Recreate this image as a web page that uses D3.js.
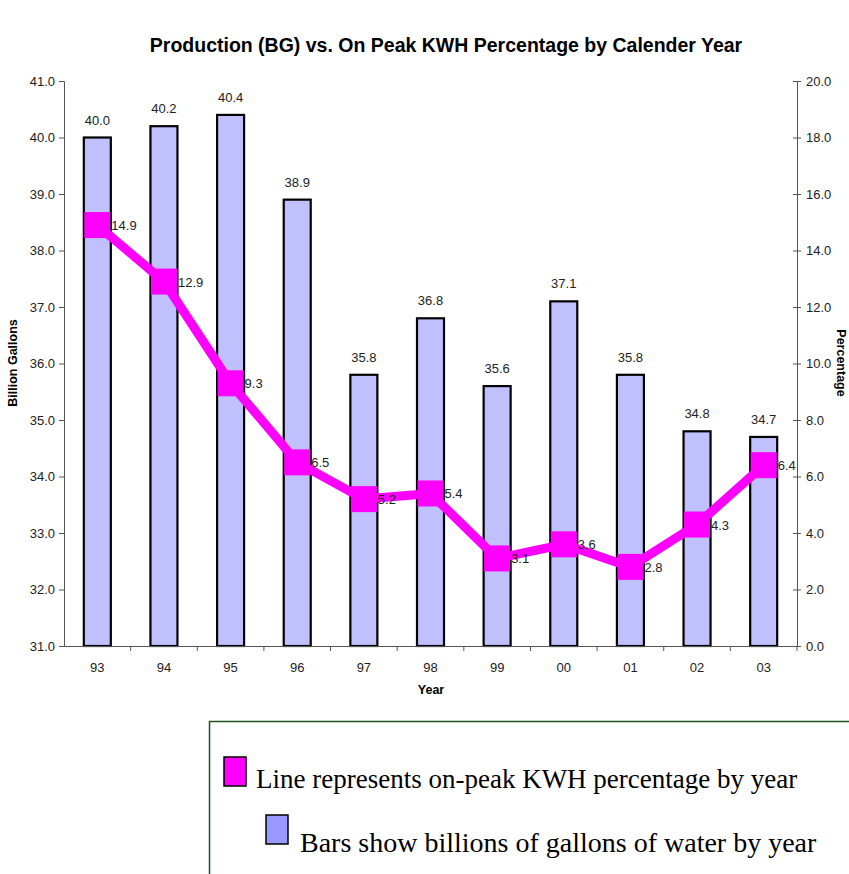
<!DOCTYPE html>
<html>
<head>
<meta charset="utf-8">
<script src="https://cdn.jsdelivr.net/npm/d3@7"></script>
<style>
  body { margin: 0; background: #fff; }
  svg text { font-family: Arial, "Liberation Sans", sans-serif; }
</style>
</head>
<body>
<div id="chart"></div>
<script>
// data
var years = ["93", "94", "95", "96", "97", "98", "99", "00", "01", "02", "03"];
var gallons = [40.0, 40.2, 40.4, 38.9, 35.8, 36.8, 35.6, 37.1, 35.8, 34.8, 34.7];
var peakPct = [14.9, 12.9, 9.3, 6.5, 5.2, 5.4, 3.1, 3.6, 2.8, 4.3, 6.4];
var leftTicks = [31, 32, 33, 34, 35, 36, 37, 38, 39, 40, 41];
var rightTicks = [0, 2, 4, 6, 8, 10, 12, 14, 16, 18, 20];
var legendItems = ["Line represents on-peak KWH percentage by year",
                   "Bars show billions of gallons of water by year"];

var W = 849, H = 874;
var plotL = 64, plotR = 797, plotT = 81, plotB = 646;

var svg = d3.select("#chart").append("svg")
  .attr("width", W)
  .attr("height", H);

//scales
var x = d3.scaleBand().domain(years).range([plotL, plotR]);
var yL = d3.scaleLinear().domain([31, 41]).range([plotB, plotT]);
var yR = d3.scaleLinear().domain([0, 20]).range([plotB, plotT]);

// title
svg.append("text")
  .attr("x", 446).attr("y", 52)
  .attr("text-anchor", "middle")
  .style("font-size", "19.5px").style("font-weight", "bold")
  .text("Production (BG) vs. On Peak KWH Percentage by Calender Year");

// bars
var barW = 27;
svg.selectAll(".bar")
  .data(gallons)
  .enter().append("rect")
  .attr("class", "bar")
  .attr("x", function(d, i) { return x(years[i]) + x.bandwidth() / 2 - barW / 2; })
  .attr("y", function(d) { return yL(d); })
  .attr("width", barW)
  .attr("height", function(d) { return plotB - yL(d); })
  .style("fill", "#C0C0FF")
  .style("stroke", "#000")
  .style("stroke-width", 2.2);

svg.selectAll(".barlabel")
  .data(gallons)
  .enter().append("text")
  .attr("class", "barlabel")
  .attr("x", function(d, i) { return x(years[i]) + x.bandwidth() / 2; })
  .attr("y", function(d) { return yL(d) - 13; })
  .attr("text-anchor", "middle")
  .style("font-size", "13px").style("fill", "#222")
  .text(function(d) { return d.toFixed(1); });

// axes
var axisColor = "#555";
var gL = svg.append("g")
  .attr("transform", "translate(" + plotL + ",0)")
  .call(d3.axisLeft(yL).tickValues(leftTicks).tickSize(5).tickPadding(4)
    .tickFormat(d3.format(".1f")));

var gR = svg.append("g")
  .attr("transform", "translate(" + plotR + ",0)")
  .call(d3.axisRight(yR).tickValues(rightTicks).tickSize(4).tickPadding(5)
    .tickFormat(d3.format(".1f")));
gR.selectAll(".tick line").attr("x1", -4);

var gB = svg.append("g")
  .attr("transform", "translate(0," + plotB + ")")
  .call(d3.axisBottom(x).tickSize(0).tickPadding(17));
// category boundary ticks
gB.selectAll(".sep")
  .data(years)
  .enter().append("line")
  .attr("class", "sep")
  .attr("x1", function(d) { return x(d) + x.bandwidth(); })
  .attr("x2", function(d) { return x(d) + x.bandwidth(); })
  .attr("y1", 0).attr("y2", 5)
  .style("stroke", axisColor);

[gL, gR, gB].forEach(function(g) {
  g.select(".domain").style("stroke", axisColor);
  g.selectAll(".tick line").style("stroke", axisColor);
  g.selectAll("text").style("font-size", "13px").style("fill", "#222")
    .style("font-family", "Arial, 'Liberation Sans', sans-serif");
});

// line + markers
var line = d3.line()
  .x(function(d, i) { return x(years[i]) + x.bandwidth() / 2; })
  .y(function(d) { return yR(d); });

svg.append("path")
  .datum(peakPct)
  .attr("d", line)
  .style("fill", "none")
  .style("stroke", "#FF00FF")
  .style("stroke-width", 9)
  .style("stroke-linejoin", "round");

var mk = 26;
svg.selectAll(".marker")
  .data(peakPct)
  .enter().append("rect")
  .attr("class", "marker")
  .attr("x", function(d, i) { return x(years[i]) + x.bandwidth() / 2 - mk / 2; })
  .attr("y", function(d) { return yR(d) - mk / 2; })
  .attr("width", mk).attr("height", mk)
  .style("fill", "#FF00FF");

svg.selectAll(".ptlabel")
  .data(peakPct)
  .enter().append("text")
  .attr("class", "ptlabel")
  .attr("x", function(d, i) { return x(years[i]) + x.bandwidth() / 2 + 14; })
  .attr("y", function(d) { return yR(d) + 5; })
  .style("font-size", "13px").style("fill", "#222")
  .text(function(d) { return d.toFixed(1); });

// axis titles
svg.append("text")
  .attr("transform", "translate(17,363) rotate(-90)")
  .attr("text-anchor", "middle")
  .style("font-size", "12.5px").style("font-weight", "bold")
  .text("Billion Gallons");

svg.append("text")
  .attr("transform", "translate(837,363) rotate(90)")
  .attr("text-anchor", "middle")
  .style("font-size", "12.5px").style("font-weight", "bold")
  .text("Percentage");

svg.append("text")
  .attr("x", 431).attr("y", 694)
  .attr("text-anchor", "middle")
  .style("font-size", "12.5px").style("font-weight", "bold")
  .text("Year");

// legend box
svg.append("path")
  .attr("d", "M209.5," + H + " V721.5 H" + W)
  .style("fill", "none")
  .style("stroke", "#1F4F1F")
  .style("stroke-width", 1.5);

var legColors = ["#FF00FF", "#9999FF"];
var legPos = [{sx: 224, sy: 757, tx: 256, ty: 788, fs: 27}, {sx: 266, sy: 815, tx: 300, ty: 852, fs: 28}];
legendItems.forEach(function(t, i) {
  var p = legPos[i];
  svg.append("rect")
    .attr("x", p.sx).attr("y", p.sy)
    .attr("width", 22).attr("height", 29)
    .style("fill", legColors[i])
    .style("stroke", "#000").style("stroke-width", 1.5);
  svg.append("text")
    .attr("x", p.tx).attr("y", p.ty)
    .style("font-family", "'Liberation Serif', 'Times New Roman', serif")
    .style("font-size", p.fs + "px")
    .text(t);
});
</script>
</body>
</html>
